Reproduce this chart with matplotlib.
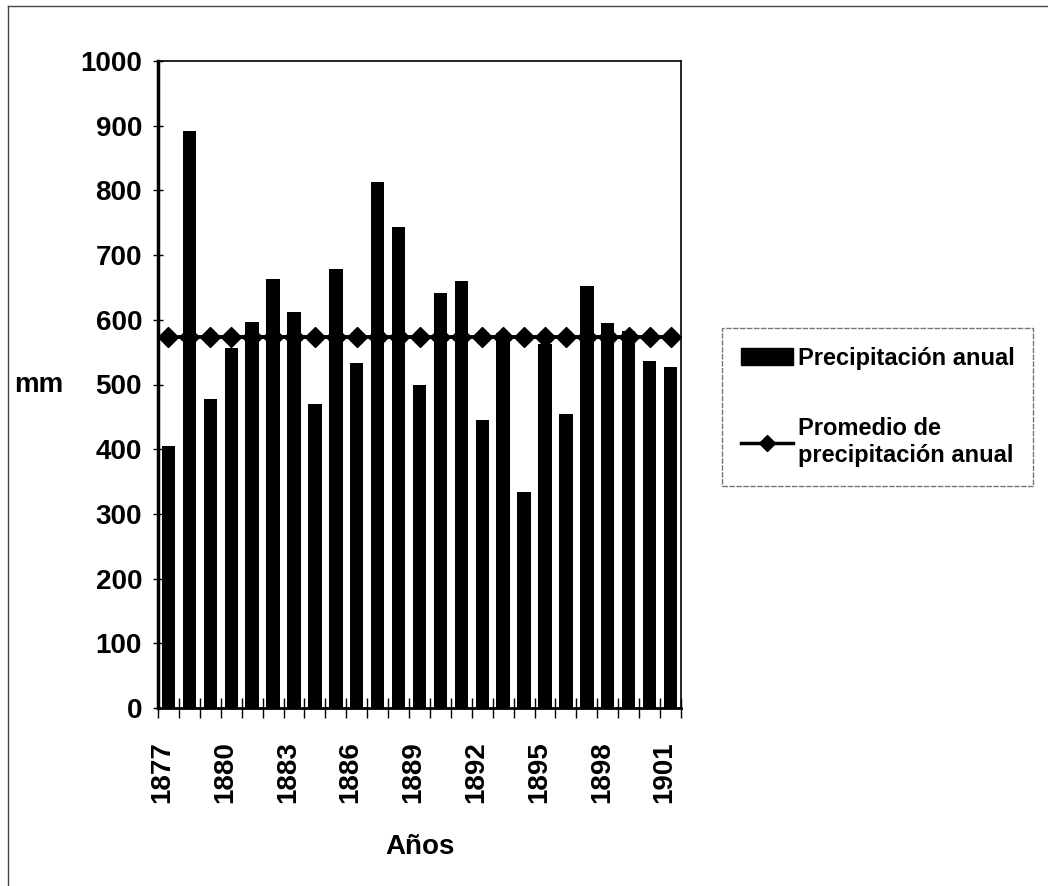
import matplotlib
matplotlib.use("Agg")
import matplotlib.pyplot as plt
import matplotlib.transforms as mtransforms
from matplotlib.lines import Line2D
from matplotlib.patches import Patch
import numpy as np

# Annual precipitation (mm), 1877-1901
years = list(range(1877, 1902))
precip = [405, 892, 478, 556, 597, 663, 612, 470, 679, 534, 813, 743, 500,
          641, 660, 445, 580, 334, 562, 454, 653, 595, 582, 536, 527]
mean_precip = 574
label_years = [1877, 1880, 1883, 1886, 1889, 1892, 1895, 1898, 1901]

plt.rcParams['font.family'] = ['Liberation Sans', 'DejaVu Sans']
plt.rcParams['font.weight'] = 'bold'
plt.rcParams['axes.labelweight'] = 'bold'

fig = plt.figure(figsize=(10.48, 8.86), dpi=100)
ax = fig.add_axes([158 / 1048, 178 / 886, 523 / 1048, 647 / 886])

x = np.arange(len(years))
ax.plot(x, [mean_precip] * len(years), color='black', lw=2.8,
        marker='D', markersize=10, zorder=2)
ax.bar(x, precip, width=0.64, color='black', zorder=3)

ax.set_xlim(-0.5, len(years) - 0.5)
ax.set_ylim(0, 1000)
ax.set_yticks(np.arange(0, 1001, 100))
ax.tick_params(axis='y', direction='inout', length=7, width=1,
               labelsize=20, pad=8)

# tick marks at category boundaries, labels every third year
ax.set_xticks(np.arange(-0.5, len(years), 1.0))
ax.set_xticklabels([])
ax.tick_params(axis='x', which='major', direction='inout', length=14, width=1)
lab_pos = [years.index(y) for y in label_years]
ax.set_xticks(lab_pos, [str(y) for y in label_years], minor=True)
ax.tick_params(axis='x', which='minor', length=0, labelsize=20,
               labelrotation=90, pad=24)
shift = mtransforms.ScaledTranslation(-6 / 100, 0, fig.dpi_scale_trans)
for t in ax.get_xticklabels(minor=True):
    t.set_transform(t.get_transform() + shift)

ax.set_xlabel('Años', fontsize=20, fontweight='bold', labelpad=22)
ax.set_ylabel('mm', fontsize=20, fontweight='bold', rotation=0,
              labelpad=30, va='center')

for side in ('top', 'right'):
    ax.spines[side].set_linewidth(1.2)
ax.spines['left'].set_linewidth(2.5)
ax.spines['bottom'].set_linewidth(2)

handles = [Patch(facecolor='black', edgecolor='black'),
           Line2D([0], [0], color='black', lw=2.5, marker='D', markersize=8)]
labels = ['Precipitación anual', 'Promedio de\nprecipitación anual']
leg = fig.legend(handles, labels, loc='upper left',
                 bbox_to_anchor=(722 / 1048, 1 - 328 / 886),
                 prop={'size': 17, 'weight': 'bold'},
                 frameon=True, fancybox=False,
                 handlelength=2.2, handleheight=0.7, handletextpad=0.2,
                 labelspacing=2.0, borderpad=0.8, borderaxespad=0)
leg.get_frame().set_edgecolor('#555555')
leg.get_frame().set_linewidth(1)
leg.get_frame().set_linestyle((0, (4, 1)))

# page border
fig.add_artist(Line2D([8 / 1048, 1], [1 - 6 / 886, 1 - 6 / 886],
                      transform=fig.transFigure, color='#444444', lw=1))
fig.add_artist(Line2D([8 / 1048, 8 / 1048], [0, 1 - 6 / 886],
                      transform=fig.transFigure, color='#444444', lw=1))

fig.savefig('out.png', dpi=100, facecolor='white')
